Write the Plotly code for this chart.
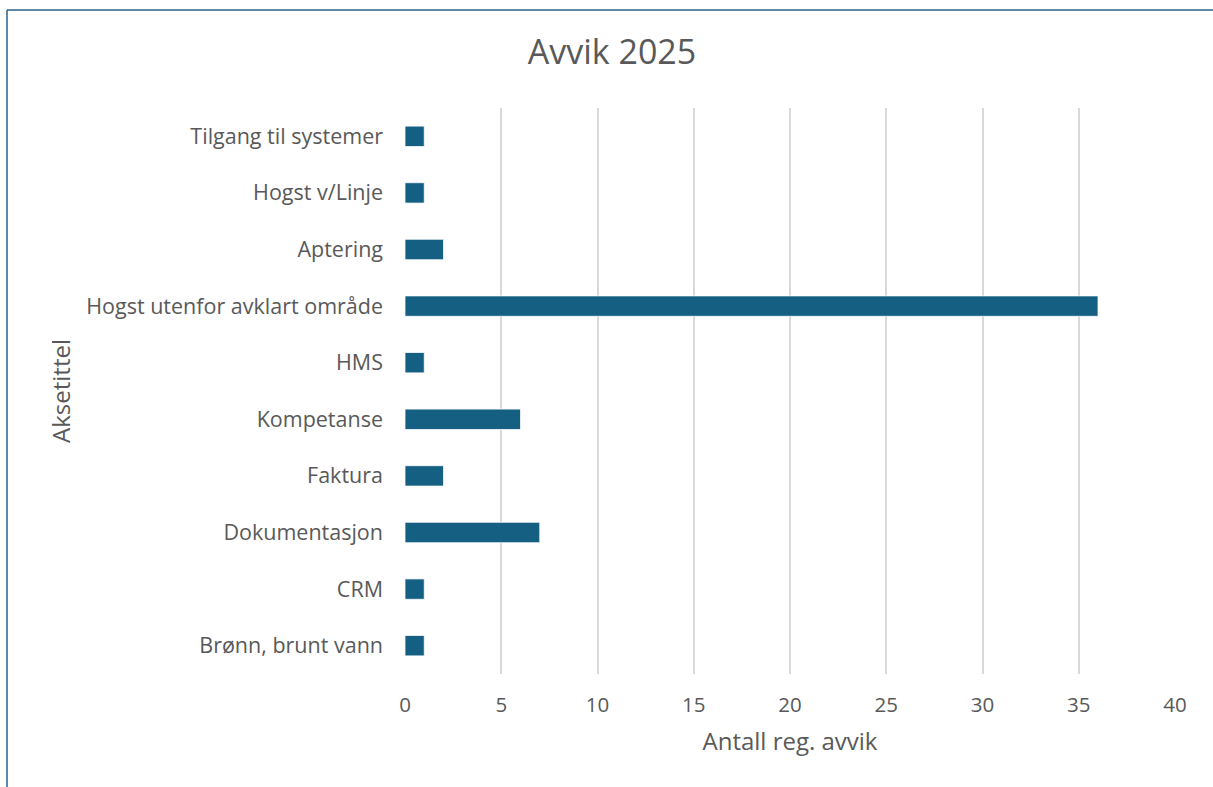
import plotly.graph_objects as go

categories = ["Brønn, brunt vann", "CRM", "Dokumentasjon", "Faktura", "Kompetanse",
              "HMS", "Hogst utenfor avklart område", "Aptering", "Hogst v/Linje",
              "Tilgang til systemer"]
values = [1, 1, 7, 2, 6, 1, 36, 2, 1, 1]
x_ticks = [0, 5, 10, 15, 20, 25, 30, 35, 40]

FONT = "Open Sans, sans-serif"
TXT = "#595959"

fig = go.Figure(go.Bar(
    y=categories, x=values, orientation="h",
    marker=dict(color="#156082", line=dict(color="#ffffff", width=0.75)),
    width=0.36,
))

L, R, T, B = 405, 38, 108, 113
W, H = 1213, 787
pw = W - L - R
ph = H - T - B
bx = (7 - L) / pw
by = (H - B - 10) / ph

fig.update_layout(
    width=W, height=H,
    margin=dict(l=L, r=R, t=T, b=B),
    paper_bgcolor="white", plot_bgcolor="white",
    font=dict(family=FONT, size=21, color=TXT),
    title=dict(text="Avvik 2025", x=612 / W, xref="container", xanchor="center",
               y=1 - 52 / H, yref="container", yanchor="middle",
               font=dict(size=34, color=TXT)),
    xaxis=dict(range=[0, 40], tickvals=x_ticks, showgrid=True, gridcolor="#d9d9d9",
               gridwidth=1.5, zeroline=False, showline=False, ticks="",
               ticklabelstandoff=16,
               tickfont=dict(size=20.5, color=TXT),
               title=dict(text="Antall reg. avvik", font=dict(size=24, color=TXT), standoff=16)),
    yaxis=dict(categoryorder="array", categoryarray=categories, showgrid=False,
               zeroline=False, showline=False, ticks="", ticklabelstandoff=21,
               tickfont=dict(size=21.5, color=TXT),
               title=dict(text="Aksetittel", font=dict(size=24, color=TXT), standoff=8)),
    showlegend=False,
    shapes=[
        dict(type="line", xref="paper", yref="paper", x0=bx, x1=bx, y0=-1, y1=by,
             line=dict(color="#2a6189", width=1.5)),
        dict(type="line", xref="paper", yref="paper", x0=bx, x1=2, y0=by, y1=by,
             line=dict(color="#2a6189", width=1.5)),
    ],
)
fig.write_html("out.html", config={"displayModeBar": False},
               post_script="document.body.style.margin='0';")
